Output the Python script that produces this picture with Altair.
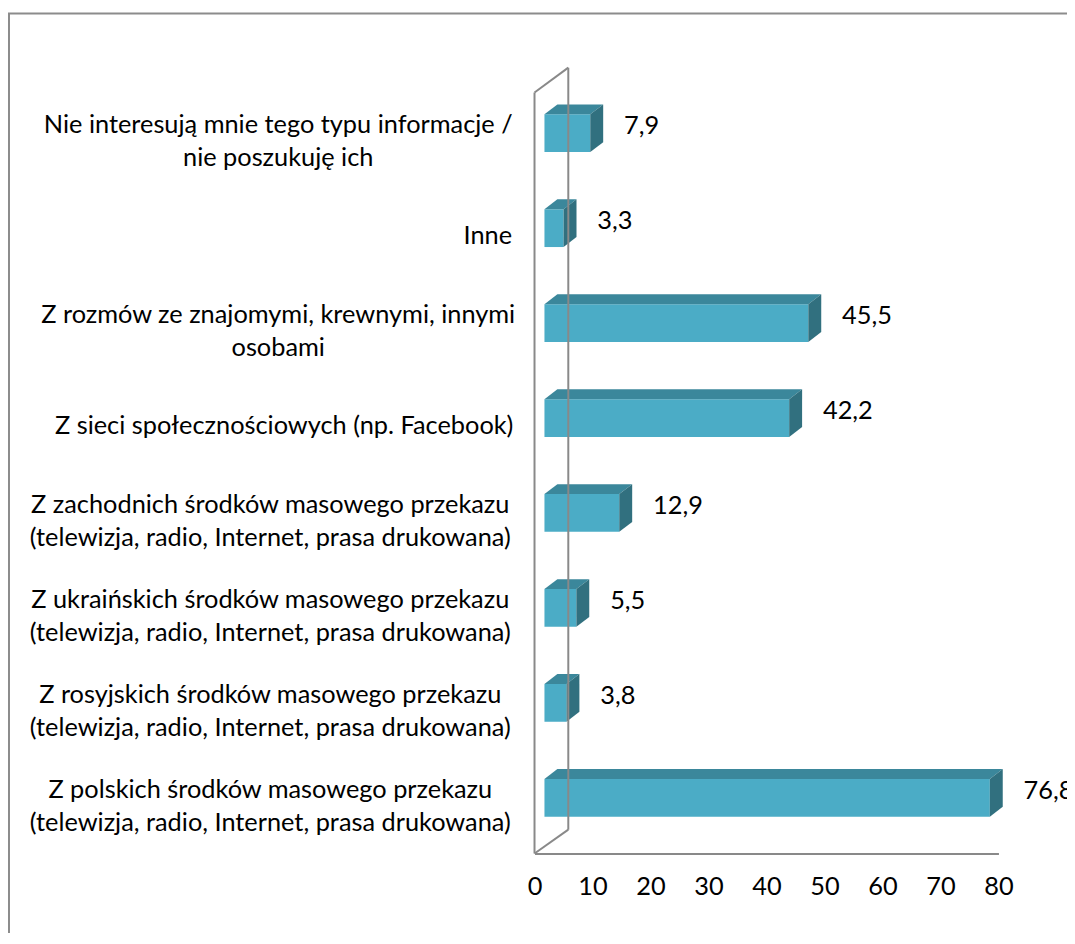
import altair as alt
import pandas as pd

# ---------------- data ----------------
categories = [
    "Nie interesują mnie tego typu informacje /\nnie poszukuję ich",
    "Inne",
    "Z rozmów ze znajomymi, krewnymi, innymi\nosobami",
    "Z sieci społecznościowych (np. Facebook)",
    "Z zachodnich środków masowego przekazu\n(telewizja, radio, Internet, prasa drukowana)",
    "Z ukraińskich środków masowego przekazu\n(telewizja, radio, Internet, prasa drukowana)",
    "Z rosyjskich środków masowego przekazu\n(telewizja, radio, Internet, prasa drukowana)",
    "Z polskich środków masowego przekazu\n(telewizja, radio, Internet, prasa drukowana)",
]
values = [7.9, 3.3, 45.5, 42.2, 12.9, 5.5, 3.8, 76.8]
value_labels = ["7,9", "3,3", "45,5", "42,2", "12,9", "5,5", "3,8", "76,8"]
x_ticks = [0, 10, 20, 30, 40, 50, 60, 70, 80]

# ---------------- layout (px) ----------------
W, H = 1066, 848
PAD_BOTTOM = 80
X0_PX, X1_PX = 530, 997          # floor front edge for 0 and 80
Y_TOP_PX, Y_STEP_PX = 75.2, 95.57
BAR_PX = 38
BAR_SHIFT_PX = 10                # bars sit behind the floor front edge
BAR_DX_PX, BAR_DY_PX = 13, 10    # bar depth
WALL_DX_PX, WALL_DY_PX = 34, 25  # wall depth
WALL_TOP_PX = 82
label_center_px = [272, 483, 272, 278, 264, 264, 264, 264]

FONT = "Lato"
FS = 25.5
LINE = "#898989"
FRONT = "#4BACC6"
TOP = "#3B879B"
SIDE = "#31707F"

K = (X1_PX - X0_PX) / 80.0
n = len(categories)
half = BAR_PX / Y_STEP_PX / 2
dxu = BAR_DX_PX / K
dyu = BAR_DY_PX / Y_STEP_PX
wall_top_u = (WALL_TOP_PX - Y_TOP_PX) / Y_STEP_PX
floor_u = (H - Y_TOP_PX) / Y_STEP_PX

xs = alt.Scale(domain=[0, 80], range=[X0_PX, X1_PX], nice=False, zero=False)
ys = alt.Scale(domain=[0, 8], range=[Y_TOP_PX, Y_TOP_PX + 8 * Y_STEP_PX], nice=False, zero=False)

bars = pd.DataFrame({
    "cat": categories,
    "v": values,
    "lab": value_labels,
    "yc": [i + 0.5 for i in range(n)],
})
bars["yt"] = bars["yc"] - half
bars["yb"] = bars["yc"] + half
bars["x0"] = 0.0
bars["lx"] = [(p - X0_PX) / K for p in label_center_px]

top_rows, side_rows = [], []
for i, (c, v) in enumerate(zip(categories, values)):
    yt = i + 0.5 - half
    yb = i + 0.5 + half
    top_rows.append({"cat": c, "y": yt, "xa": 0.0, "xb": v})
    top_rows.append({"cat": c, "y": yt - dyu, "xa": dxu, "xb": v + dxu})
    side_rows.append({"cat": c, "x": v, "y": yt, "y2": yb})
    side_rows.append({"cat": c, "x": v + dxu, "y": yt - dyu, "y2": yb - dyu})
top_df = pd.DataFrame(top_rows)
side_df = pd.DataFrame(side_rows)

xaxis = alt.Axis(
    values=x_ticks, grid=False, ticks=False, tickSize=0, labelPadding=33,
    labelBaseline="middle", labelFont=FONT, labelFontSize=FS, labelColor="#000000",
    domainColor=LINE, domainWidth=2, title=None, labelFlush=False,
    labelOverlap=False, format="d",
)

front = alt.Chart(bars).mark_rect(
    color=FRONT, xOffset=BAR_SHIFT_PX, x2Offset=BAR_SHIFT_PX
).encode(
    x=alt.X("x0:Q", scale=xs, axis=xaxis),
    x2="v:Q",
    y=alt.Y("yt:Q", scale=ys, axis=None),
    y2="yb:Q",
)

topface = alt.Chart(top_df).mark_area(
    orient="horizontal", color=TOP, xOffset=BAR_SHIFT_PX, x2Offset=BAR_SHIFT_PX
).encode(
    x=alt.X("xa:Q", scale=xs, axis=xaxis, stack=None),
    x2="xb:Q",
    y=alt.Y("y:Q", scale=ys, axis=None),
    detail="cat:N",
)

sideface = alt.Chart(side_df).mark_area(
    orient="vertical", color=SIDE, xOffset=BAR_SHIFT_PX
).encode(
    x=alt.X("x:Q", scale=xs, axis=xaxis),
    y=alt.Y("y:Q", scale=ys, axis=None, stack=None),
    y2="y2:Q",
    detail="cat:N",
)

vlabels = alt.Chart(bars).mark_text(
    align="left", baseline="middle", dx=44, dy=-7, font=FONT, fontSize=FS, color="#000000"
).encode(
    x=alt.X("v:Q", scale=xs, axis=xaxis),
    y=alt.Y("yc:Q", scale=ys, axis=None),
    text="lab:N",
)

label_style = dict(align="center", baseline="middle", lineBreak="\n", lineHeight=33,
                   font=FONT, fontSize=FS, color="#000000")

clabels_multi = alt.Chart(bars).transform_filter(
    "indexof(datum.cat, '\\n') >= 0"
).mark_text(dy=-8, **label_style).encode(
    x=alt.X("lx:Q", scale=xs, axis=xaxis),
    y=alt.Y("yc:Q", scale=ys, axis=None),
    text="cat:N",
)
clabels_single = alt.Chart(bars).transform_filter(
    "indexof(datum.cat, '\\n') < 0"
).mark_text(dy=8, **label_style).encode(
    x=alt.X("lx:Q", scale=xs, axis=xaxis),
    y=alt.Y("yc:Q", scale=ys, axis=None),
    text="cat:N",
)

base_one = pd.DataFrame({"k": [0]})

wall_front = alt.Chart(base_one).mark_rule(color=LINE, strokeWidth=2).encode(
    x=alt.XDatum(0, type="quantitative", scale=xs, axis=xaxis),
    y=alt.YDatum(wall_top_u, type="quantitative", scale=ys, axis=None),
    y2=alt.Y2Datum(floor_u),
)
wall_back = alt.Chart(base_one).mark_rule(
    color=LINE, strokeWidth=2, xOffset=WALL_DX_PX, yOffset=-WALL_DY_PX, y2Offset=-WALL_DY_PX + 1
).encode(
    x=alt.XDatum(0, type="quantitative", scale=xs, axis=xaxis),
    y=alt.YDatum(wall_top_u, type="quantitative", scale=ys, axis=None),
    y2=alt.Y2Datum(floor_u),
)
wall_diag_top = alt.Chart(base_one).mark_rule(
    color=LINE, strokeWidth=2, x2Offset=WALL_DX_PX, y2Offset=-WALL_DY_PX
).encode(
    x=alt.XDatum(0, type="quantitative", scale=xs, axis=xaxis),
    x2=alt.X2Datum(0),
    y=alt.YDatum(wall_top_u, type="quantitative", scale=ys, axis=None),
    y2=alt.Y2Datum(wall_top_u),
)
wall_diag_bot = alt.Chart(base_one).mark_rule(
    color=LINE, strokeWidth=2, x2Offset=WALL_DX_PX, y2Offset=-WALL_DY_PX + 1
).encode(
    x=alt.XDatum(0, type="quantitative", scale=xs, axis=xaxis),
    x2=alt.X2Datum(0),
    y=alt.YDatum(floor_u, type="quantitative", scale=ys, axis=None),
    y2=alt.Y2Datum(floor_u),
)

# outer chart border (left and top edges visible)
frame_left = alt.Chart(base_one).mark_rule(color="#8c8c8c", strokeWidth=2).encode(
    x=alt.value(1), y=alt.value(2), y2=alt.value(H + PAD_BOTTOM)
)
frame_top = alt.Chart(base_one).mark_rule(color="#8c8c8c", strokeWidth=2).encode(
    x=alt.value(0), x2=alt.value(W), y=alt.value(2.5)
)

chart = alt.layer(
    front, topface, sideface,
    wall_front, wall_back, wall_diag_top, wall_diag_bot,
    vlabels, clabels_multi, clabels_single,
    frame_left, frame_top,
).properties(
    width=W, height=H,
    padding={"left": 0, "top": 0, "right": 0, "bottom": PAD_BOTTOM},
    autosize=alt.AutoSizeParams(type="none"),
    background="white",
).configure_view(stroke=None)

chart.save("out.html", embed_options={"renderer": "svg", "actions": False})
